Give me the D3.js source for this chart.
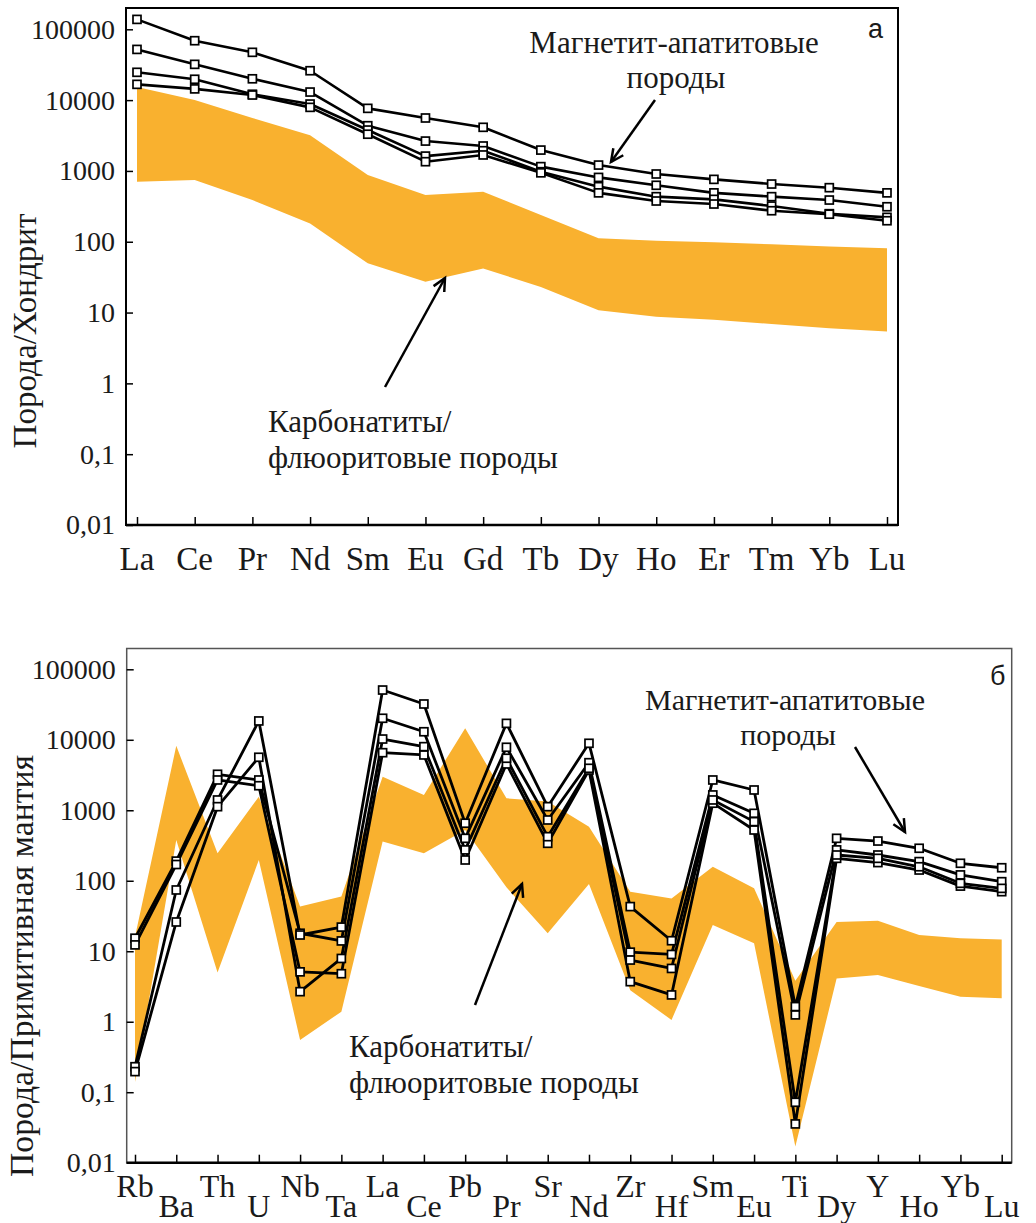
<!DOCTYPE html>
<html>
<head>
<meta charset="utf-8">
<script src="https://cdn.jsdelivr.net/npm/d3@7/dist/d3.min.js"></script>
<style>
  html, body { margin: 0; padding: 0; background: #fff; }
  svg text { font-family: "Liberation Serif", "DejaVu Serif", serif; fill: #1a1a1a; }
  svg text.panel { font-family: "Liberation Sans", Arial, sans-serif; }
</style>
</head>
<body>
<svg id="chart" width="1036" height="1223"></svg>
<script>
// ---- data: panel а (REE / chondrite) ----
const ree = ['La', 'Ce', 'Pr', 'Nd', 'Sm', 'Eu', 'Gd', 'Tb', 'Dy', 'Ho', 'Er', 'Tm', 'Yb', 'Lu'];
const reeRock1 = [138000, 69000, 47300, 26000, 7650, 5590, 4130, 1970, 1210, 905, 760, 653, 580, 490];
const reeRock2 = [52000, 32000, 20000, 13000, 4350, 2640, 2250, 1150, 810, 627, 490, 433, 388, 312];
const reeRock3 = [24700, 19700, 12100, 8800, 3780, 1620, 1930, 975, 600, 433, 397, 319, 249, 221];
const reeRock4 = [16700, 14400, 11800, 7900, 3300, 1350, 1680, 940, 490, 376, 341, 274, 245, 198];
const reeCarbUpper = [15300, 10000, 5600, 3200, 875, 457, 508, 238, 112, 103, 98, 92, 86, 81];
const reeCarbLower = [705, 745, 388, 181, 49.5, 27.2, 42, 23, 10.8, 8.7, 7.9, 6.9, 6.0, 5.4];

// ---- data: panel б (primitive mantle) ----
const spider = ['Rb', 'Ba', 'Th', 'U', 'Nb', 'Ta', 'La', 'Ce', 'Pb', 'Pr', 'Sr', 'Nd', 'Zr', 'Hf',
                'Sm', 'Eu', 'Ti', 'Dy', 'Y', 'Ho', 'Yb', 'Lu'];
const pmRock1 = [15.3, 190, 3240, 2690, 18, 14, 20200, 13000, 400, 7830, 728, 4730, 9.7, 9.0,
                 1650, 905, 1.25, 274, 232, 187, 121, 97];
const pmRock2 = [12.3, 170, 2690, 2230, 5.1, 4.8, 6560, 6090, 197, 4540, 340, 3720, 3.7, 2.4,
                 1260, 525, 0.0355, 208, 181, 142, 84, 70];
const pmRock3 = [0.23, 74, 1400, 18500, 17, 22, 50800, 32200, 655, 17100, 1125, 8920, 43, 14.1,
                 2690, 1940, 1.64, 400, 366, 289, 177, 153];
const pmRock4 = [0.196, 26, 1125, 5650, 2.67, 7.9, 10250, 7990, 274, 5470, 422, 3940, 7.5, 5.7,
                 1400, 690, 0.072, 232, 208, 158, 92, 78];
const pmCarbUpper = [16, 8200, 245, 1560, 43, 60, 3000, 1650, 14600, 1480, 1330, 585, 70, 56,
                     158, 78, 3.8, 26, 27, 17, 15.3, 14.7];
const pmCarbLower = [0.14, 380, 5, 197, 0.55, 1.39, 360, 245, 525, 81, 18, 90, 2.8, 1.06,
                     23.6, 13, 0.017, 4.1, 4.6, 3.2, 2.27, 2.15];

const yTicks = [100000, 10000, 1000, 100, 10, 1, 0.1, 0.01];
const yTickLabels = ['100000', '10000', '1000', '100', '10', '1', '0,1', '0,01'];

const svg = d3.select('#chart');
const bandColor = '#f9b12f';

function arrow(g, x1, y1, x2, y2) {
    const a = Math.atan2(y2 - y1, x2 - x1), len = 14, spread = 0.45;
    g.append('line').attr('x1', x1).attr('y1', y1).attr('x2', x2).attr('y2', y2)
        .attr('stroke', '#000').attr('stroke-width', 2.5);
    g.append('path')
        .attr('d', `M${x2 - len * Math.cos(a - spread)},${y2 - len * Math.sin(a - spread)}L${x2},${y2}L${x2 - len * Math.cos(a + spread)},${y2 - len * Math.sin(a + spread)}`)
        .attr('fill', 'none').attr('stroke', '#000').attr('stroke-width', 2.5);
}

function panel(opts) {
    const g = svg.append('g');
    const x = d3.scalePoint().domain(opts.cats).range(opts.xRange);
    const y = d3.scaleLog().domain([0.01, 100000]).range(opts.yRange);

    // carbonatite band
    const area = d3.area()
        .x((d, i) => x(opts.cats[i]))
        .y0(d => y(d[0]))
        .y1(d => y(d[1]));
    g.append('path')
        .datum(opts.lower.map((v, i) => [v, opts.upper[i]]))
        .attr('fill', bandColor)
        .attr('d', area);

    // frame
    g.append('rect')
        .attr('x', opts.frame[0]).attr('y', opts.frame[1])
        .attr('width', opts.frame[2] - opts.frame[0]).attr('height', opts.frame[3] - opts.frame[1])
        .attr('fill', 'none').attr('stroke', opts.frameColor).attr('stroke-width', opts.frameWidth);

    // y axis
    const yAxis = g.append('g')
        .attr('transform', `translate(${opts.frame[0]},0)`)
        .call(d3.axisLeft(y).tickValues(yTicks).tickFormat((d, i) => yTickLabels[i])
            .tickSizeInner(-7).tickSizeOuter(0).tickPadding(11));
    yAxis.select('.domain').remove();
    yAxis.selectAll('line').attr('stroke', '#000').attr('stroke-width', 1.5);
    yAxis.selectAll('text').attr('font-size', 28).attr('fill', '#1a1a1a');

    // x axis
    const xAxis = g.append('g')
        .attr('transform', `translate(0,${opts.yRange[0]})`)
        .call(d3.axisBottom(x).tickFormat('').tickSizeInner(-8).tickSizeOuter(0));
    xAxis.select('.domain').remove();
    xAxis.selectAll('line').attr('stroke', '#000').attr('stroke-width', 1.5);
    g.append('line')
        .attr('x1', opts.frame[0]).attr('x2', opts.frame[2])
        .attr('y1', opts.yRange[0]).attr('y2', opts.yRange[0])
        .attr('stroke', '#000').attr('stroke-width', 2.5);

    g.append('g').selectAll('text')
        .data(opts.cats)
        .join('text')
        .attr('x', d => x(d))
        .attr('y', (d, i) => opts.labelY(i))
        .attr('text-anchor', 'middle')
        .attr('font-size', opts.labelSize)
        .text(d => d);

    // rock series
    const line = d3.line().x((d, i) => x(opts.cats[i])).y(d => y(d));
    opts.series.forEach(s => {
        g.append('path').datum(s)
            .attr('fill', 'none').attr('stroke', '#000')
            .attr('stroke-width', opts.lineWidth).attr('stroke-linejoin', 'round')
            .attr('d', line);
    });
    opts.series.forEach(s => {
        g.append('g').selectAll('rect')
            .data(s)
            .join('rect')
            .attr('x', (d, i) => x(opts.cats[i]) - 4)
            .attr('y', d => y(d) - 4)
            .attr('width', 8).attr('height', 8)
            .attr('fill', '#fff').attr('stroke', '#000').attr('stroke-width', 1.7);
    });

    // y title
    g.append('text')
        .attr('transform', `translate(${opts.titleX},${opts.titleY}) rotate(-90)`)
        .attr('text-anchor', 'middle')
        .attr('font-size', 33)
        .attr('fill', '#333')
        .attr('textLength', opts.titleLen)
        .attr('lengthAdjust', 'spacingAndGlyphs')
        .text(opts.title);
    return g;
}

const gA = panel({
    cats: ree, xRange: [137, 887], yRange: [525, 29.3],
    frame: [126, 8, 898, 525], frameColor: '#000', frameWidth: 2,
    upper: reeCarbUpper, lower: reeCarbLower,
    series: [reeRock1, reeRock2, reeRock3, reeRock4], lineWidth: 2.6,
    labelY: () => 570, labelSize: 33,
    title: 'Порода/Хондрит', titleX: 36, titleY: 331, titleLen: 235
});

const gB = panel({
    cats: spider, xRange: [135, 1001.7], yRange: [1162.7, 669.3],
    frame: [126.7, 648.5, 1011.7, 1162.7], frameColor: '#555', frameWidth: 1.5,
    upper: pmCarbUpper, lower: pmCarbLower,
    series: [pmRock1, pmRock2, pmRock3, pmRock4], lineWidth: 2.8,
    labelY: i => i % 2 === 0 ? 1197 : 1217, labelSize: 32,
    title: 'Порода/Примитивная мантия', titleX: 33, titleY: 966, titleLen: 422
});

// annotations, panel а
gA.append('text').attr('class', 'panel').attr('x', 868).attr('y', 38).attr('font-size', 27).text('а');
gA.append('text').attr('x', 674).attr('y', 53).attr('text-anchor', 'middle').attr('font-size', 31).text('Магнетит-апатитовые');
gA.append('text').attr('x', 676).attr('y', 88).attr('text-anchor', 'middle').attr('font-size', 31).text('породы');
arrow(gA, 655, 100, 611, 162);
gA.append('text').attr('x', 268).attr('y', 432).attr('font-size', 31).text('Карбонатиты/');
gA.append('text').attr('x', 268).attr('y', 468).attr('font-size', 31).text('флюоритовые породы');
arrow(gA, 385, 387, 445, 278);

// annotations, panel б
gB.append('text').attr('class', 'panel').attr('x', 990).attr('y', 685).attr('font-size', 27).text('б');
gB.append('text').attr('x', 785).attr('y', 710).attr('text-anchor', 'middle').attr('font-size', 30).text('Магнетит-апатитовые');
gB.append('text').attr('x', 788).attr('y', 745).attr('text-anchor', 'middle').attr('font-size', 30).text('породы');
arrow(gB, 855, 747, 905, 832);
gB.append('text').attr('x', 349).attr('y', 1057).attr('font-size', 31).text('Карбонатиты/');
gB.append('text').attr('x', 349).attr('y', 1093).attr('font-size', 31).text('флюоритовые породы');
arrow(gB, 475, 1005, 522, 884);
</script>
</body>
</html>
